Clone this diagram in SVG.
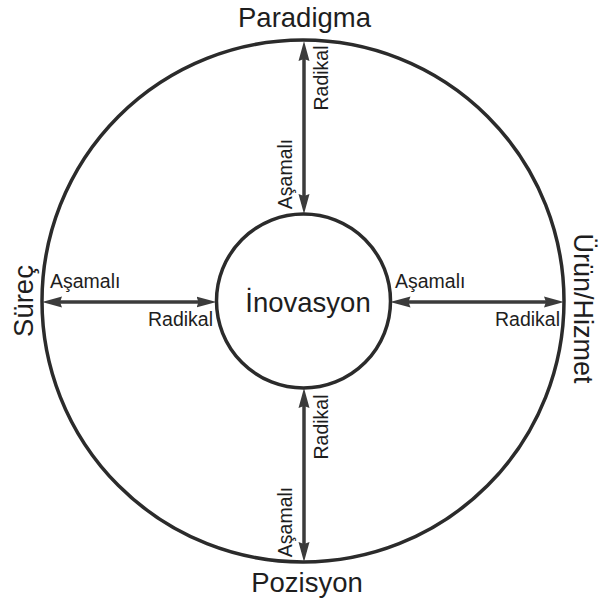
<svg xmlns="http://www.w3.org/2000/svg" width="600" height="603" viewBox="0 0 600 603">
<style>
.ring{fill:none;stroke:#2b2b2b;stroke-width:3.5}
.con{stroke:#3b3b3b;stroke-width:3.5;fill:none}
.big{font-family:"Liberation Sans",Arial,sans-serif;font-size:27.5px;fill:#1e1e1e;text-anchor:middle}
.sm{font-family:"Liberation Sans",Arial,sans-serif;font-size:19.5px;fill:#1e1e1e}
</style>
<defs>
<marker id="ah" viewBox="0 -6 20 12" refX="10" refY="0" markerWidth="20" markerHeight="12" markerUnits="userSpaceOnUse" orient="auto-start-reverse">
<path d="M20,0 L0,-5.5 L2,0 L0,5.5 Z" fill="#3b3b3b"/>
</marker>
</defs>
<rect width="600" height="603" fill="#fff"/>
<g id="outer"><circle class="ring" cx="303" cy="301" r="261"/></g>
<g id="connectors">
<line class="con" x1="304" y1="51" x2="304" y2="204" marker-start="url(#ah)" marker-end="url(#ah)"/>
<line class="con" x1="304" y1="398" x2="304" y2="552" marker-start="url(#ah)" marker-end="url(#ah)"/>
<line class="con" x1="52" y1="302" x2="206.5" y2="302" marker-start="url(#ah)" marker-end="url(#ah)"/>
<line class="con" x1="400.5" y1="302" x2="554" y2="302" marker-start="url(#ah)" marker-end="url(#ah)"/>
</g>
<g id="inovasyon">
<circle class="ring" cx="303.5" cy="301" r="87" fill="#fff"/>
<text class="big" x="308" y="312">İnovasyon</text>
</g>
<g id="paradigma"><text class="big" x="304.5" y="27">Paradigma</text></g>
<g id="pozisyon"><text class="big" x="307" y="592">Pozisyon</text></g>
<g id="surec"><text class="big" transform="translate(33,301) rotate(-90)">Süreç</text></g>
<g id="urun"><text class="big" style="font-size:27px" transform="translate(574,308.5) rotate(90)">Ürün/Hizmet</text></g>
<g id="labels">
<text class="sm" text-anchor="middle" transform="translate(328,78) rotate(-90)">Radikal</text>
<text class="sm" text-anchor="middle" transform="translate(292,174) rotate(-90)">Aşamalı</text>
<text class="sm" text-anchor="middle" transform="translate(328,427) rotate(-90)">Radikal</text>
<text class="sm" text-anchor="middle" transform="translate(292,522) rotate(-90)">Aşamalı</text>
<text class="sm" x="50" y="288">Aşamalı</text>
<text class="sm" x="213" y="326" text-anchor="end">Radikal</text>
<text class="sm" x="395" y="288">Aşamalı</text>
<text class="sm" x="560" y="326" text-anchor="end">Radikal</text>
</g>
</svg>
